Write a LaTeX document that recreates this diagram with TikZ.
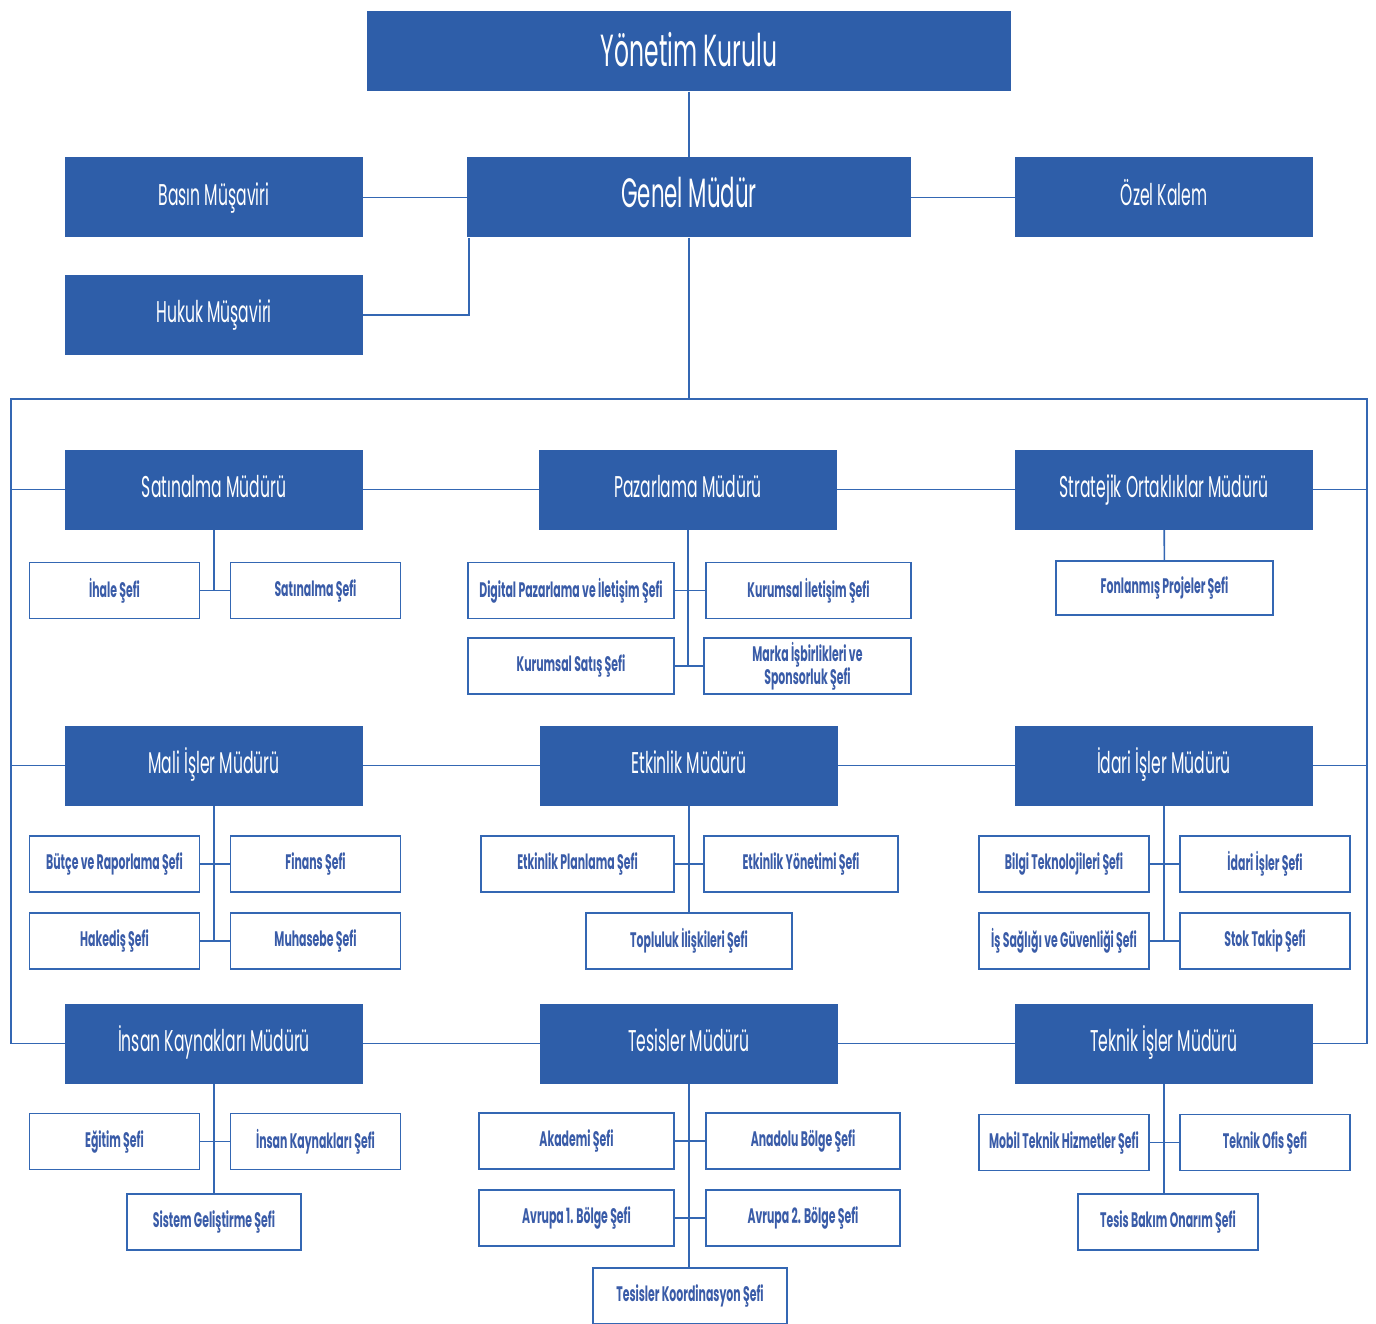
\documentclass[tikz,border=0pt]{standalone}
\usepackage{fontspec}
\setmainfont{Poppins}[FakeStretch=0.52]
\usetikzlibrary{backgrounds}
\definecolor{orgblue}{HTML}{2E5EA9}
\definecolor{orgline}{HTML}{3467B3}
\definecolor{orgtext}{HTML}{3A5CA8}
\tikzset{
  topbox/.style={font=\fontsize{45}{48}\selectfont, fill=orgblue, text=white, inner sep=0pt, minimum width=#1pt, minimum height=80pt, text height=34pt, text depth=4pt},
  topbox/.default=644,
  mgrbox/.style={font=\fontsize{30}{34}\selectfont, fill=orgblue, text=white, inner sep=0pt, minimum width=298pt, minimum height=80pt, text height=24pt, text depth=8pt},
  sefbox/.style={draw=orgline, line width=1.8pt, fill=white, text=orgtext, inner sep=0pt, minimum width=#1pt, minimum height=56pt, align=center, font=\bfseries\fontsize{21}{23}\selectfont},
  sefbox/.default=170,
  link/.style={draw=orgline, line width=1.6pt}
}

\begin{document}
\begin{tikzpicture}[x=1pt,y=-1pt]
	\useasboundingbox (0,0) rectangle (1376,1324);
	
	% top levels
	\node[topbox] (yk) at (689,51.5) {Yönetim Kurulu};
	\node[topbox=444, font=\fontsize{41}{44}\selectfont, text height=28pt, text depth=8pt] (gm) at (689,197.5) {Genel Müdür};
	\node[mgrbox] (bm) at (214,197.5) {Basın Müşaviri};
	\node[mgrbox] (hm) at (214,315) {Hukuk Müşaviri};
	\node[mgrbox] (oz) at (1164,197.5) {Özel Kalem};
	
	\coordinate (tl) at (11,399);
	\coordinate (tr) at (1367,399);
	
	% managers
	\node[mgrbox] (sat) at (214,489.5) {Satınalma Müdürü};
	\node[mgrbox] (paz) at (688,489.5) {Pazarlama Müdürü};
	\node[mgrbox] (str) at (1164,489.5) {Stratejik Ortaklıklar Müdürü};
	\node[mgrbox] (mal) at (214,765.5) {Mali İşler Müdürü};
	\node[mgrbox] (etk) at (689,765.5) {Etkinlik Müdürü};
	\node[mgrbox] (ida) at (1164,765.5) {İdari İşler Müdürü};
	\node[mgrbox] (ink) at (214,1043.5) {İnsan Kaynakları Müdürü};
	\node[mgrbox] (tes) at (689,1043.5) {Tesisler Müdürü};
	\node[mgrbox] (tek) at (1164,1043.5) {Teknik İşler Müdürü};
	
	% chiefs
	\node[sefbox] (ihale) at (114.5,590.5) {İhale Şefi};
	\node[sefbox] (satsef) at (315.5,590.5) {Satınalma Şefi};
	\node[sefbox=206] (dig) at (571,590.5) {Digital Pazarlama ve İletişim Şefi};
	\node[sefbox=205] (kil) at (808.5,590.5) {Kurumsal İletişim Şefi};
	\node[sefbox=206] (ksat) at (571,666) {Kurumsal Satış Şefi};
	\node[sefbox=207] (mrk) at (807.5,666) {Marka İşbirlikleri ve\\Sponsorluk Şefi};
	\node[sefbox=217, minimum height=54pt] (fon) at (1164.5,588) {Fonlanmış Projeler Şefi};
	
	\node[sefbox] (btc) at (114.5,864) {Bütçe ve Raporlama Şefi};
	\node[sefbox] (fin) at (315.5,864) {Finans Şefi};
	\node[sefbox] (hak) at (114.5,941) {Hakediş Şefi};
	\node[sefbox] (muh) at (315.5,941) {Muhasebe Şefi};
	\node[sefbox=193] (epl) at (577.5,864) {Etkinlik Planlama Şefi};
	\node[sefbox=194] (eyo) at (801,864) {Etkinlik Yönetimi Şefi};
	\node[sefbox=206] (top) at (689,941) {Topluluk İlişkileri Şefi};
	\node[sefbox] (bil) at (1064,864) {Bilgi Teknolojileri Şefi};
	\node[sefbox] (ids) at (1265,864) {İdari İşler Şefi};
	\node[sefbox] (isg) at (1064,941) {İş Sağlığı ve Güvenliği Şefi};
	\node[sefbox] (stk) at (1265,941) {Stok Takip Şefi};
	
	\node[sefbox] (egt) at (114.5,1141.5) {Eğitim Şefi};
	\node[sefbox] (iks) at (315.5,1141.5) {İnsan Kaynakları Şefi};
	\node[sefbox=174] (sis) at (214,1222) {Sistem Geliştirme Şefi};
	\node[sefbox=195] (aka) at (576.5,1141) {Akademi Şefi};
	\node[sefbox=194] (ana) at (803,1141) {Anadolu Bölge Şefi};
	\node[sefbox=195] (av1) at (576.5,1218) {Avrupa 1. Bölge Şefi};
	\node[sefbox=194] (av2) at (803,1218) {Avrupa 2. Bölge Şefi};
	\node[sefbox=194] (kor) at (690,1296) {Tesisler Koordinasyon Şefi};
	\node[sefbox] (mob) at (1064,1142.5) {Mobil Teknik Hizmetler Şefi};
	\node[sefbox] (tof) at (1265,1142.5) {Teknik Ofis Şefi};
	\node[sefbox=180] (bak) at (1168,1222) {Tesis Bakım Onarım Şefi};
	
	\begin{scope}[on background layer]
		\draw[link] (yk) -- (gm);
		\draw[link] (bm) -- (gm) -- (oz);
		\draw[link] (hm) -| ([xshift=2pt]gm.south west);
		\draw[link] (gm) -- (gm |- tl);
		\draw[link] (tl |- ink) -- (tl) -- (tr) -- (tr |- tek);
		\draw[link] (tl |- sat) -- (tr |- str);
		\draw[link] (tl |- mal) -- (tr |- ida);
		\draw[link] (tl |- ink) -- (tr |- tek);
		
		\draw[link] (sat) -- (sat |- ihale);
		\draw[link] (ihale) -- (satsef);
		\draw[link] (paz) -- (paz |- ksat);
		\draw[link] (dig) -- (kil);
		\draw[link] (ksat) -- (mrk);
		\draw[link] (str) -- (fon);
		
		\draw[link] (mal) -- (mal |- hak);
		\draw[link] (btc) -- (fin);
		\draw[link] (hak) -- (muh);
		\draw[link] (etk) -- (top);
		\draw[link] (epl) -- (eyo);
		\draw[link] (ida) -- (ida |- isg);
		\draw[link] (bil) -- (ids);
		\draw[link] (isg) -- (stk);
		
		\draw[link] (ink) -- (sis);
		\draw[link] (egt) -- (iks);
		\draw[link] (tes) -- (tes |- kor);
		\draw[link] (aka) -- (ana);
		\draw[link] (av1) -- (av2);
		\draw[link] (tek) -- (tek |- bak.north);
		\draw[link] (mob) -- (tof);
	\end{scope}
\end{tikzpicture}
\end{document}
